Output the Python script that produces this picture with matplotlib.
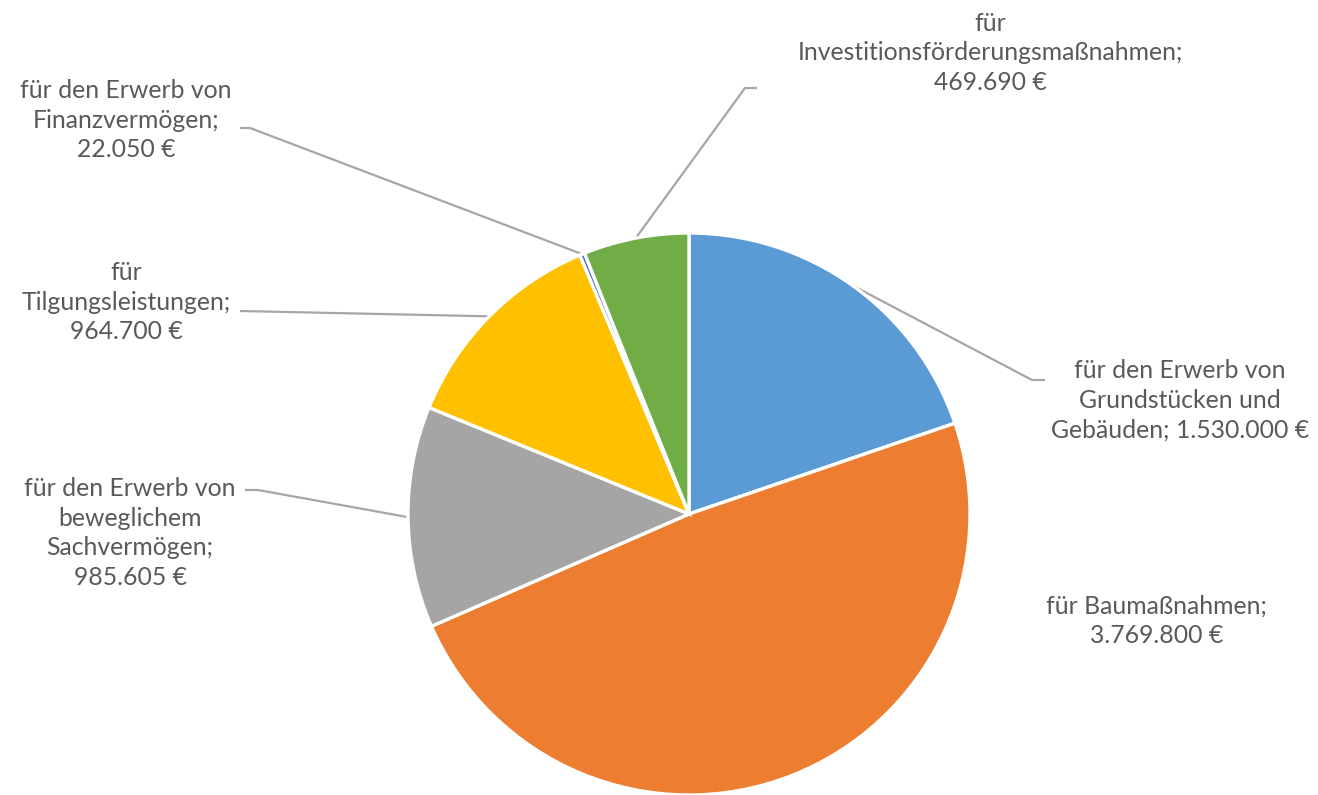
import numpy as np
import matplotlib
matplotlib.use("Agg")
import matplotlib.pyplot as plt

categories = [
    "für den Erwerb von\nGrundstücken und\nGebäuden; 1.530.000 €",
    "für Baumaßnahmen;\n3.769.800 €",
    "für den Erwerb von\nbeweglichem\nSachvermögen;\n985.605 €",
    "für\nTilgungsleistungen;\n964.700 €",
    "für den Erwerb von\nFinanzvermögen;\n22.050 €",
    "für\nInvestitionsförderungsmaßnahmen;\n469.690 €",
]
values = [1530000, 3769800, 985605, 964700, 22050, 469690]
colors = ["#5B9BD5", "#ED7D31", "#A5A5A5", "#FFC000", "#4472C4", "#70AD47"]

W, H = 1318, 795
fig = plt.figure(figsize=(W / 100, H / 100), dpi=100)
ax = fig.add_axes([0, 0, 1, 1])

cx, cy, R = 689, H - 514, 281
wedges, _ = ax.pie(values, colors=colors, startangle=90, counterclock=False,
                   center=(cx, cy), radius=R, frame=True,
                   wedgeprops=dict(edgecolor="white", linewidth=2.4))
ax.set_xlim(0, W)
ax.set_ylim(0, H)
ax.set_aspect("equal")
ax.axis("off")

# label layout (pixel coords from top), elbow points of leader lines
label_pos = [(1180, 400), (1157, 621), (130, 533), (126, 302), (126, 120), (990, 53)]
elbows = [
    [(1045, 380), (1032, 380)],
    None,
    [(245, 490), (258, 490)],
    [(240, 311)],
    [(240, 128), (250, 128)],
    [(757, 88), (745, 88)],
]

txtcol = "#595959"
linecol = "#A6A6A6"
for i, (w, lab) in enumerate(zip(wedges, categories)):
    lx, ly = label_pos[i]
    ax.text(lx, H - ly, lab, ha="center", va="center", fontsize=17.8,
            family=["Lato", "DejaVu Sans"], color=txtcol, linespacing=1.36)
    if elbows[i] is not None:
        mid = np.deg2rad((w.theta1 + w.theta2) / 2)
        ex = w.center[0] + w.r * np.cos(mid)
        ey = w.center[1] + w.r * np.sin(mid)
        xs = [p[0] for p in elbows[i]] + [ex]
        ys = [H - p[1] for p in elbows[i]] + [ey]
        ax.plot(xs, ys, color=linecol, lw=1.6, solid_capstyle="butt", zorder=0.5)

fig.savefig("out.png", dpi=100, facecolor="white")
